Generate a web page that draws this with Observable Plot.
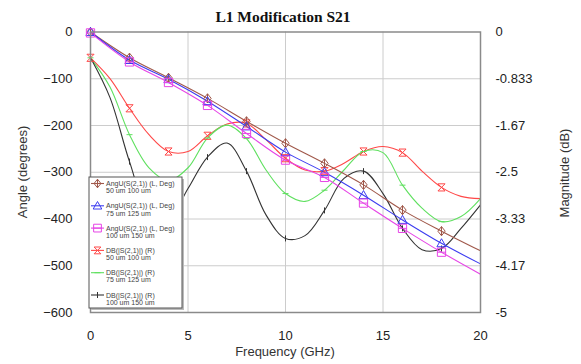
<!DOCTYPE html>
<html><head><meta charset="utf-8">
<script src="https://cdn.jsdelivr.net/npm/d3@7"></script>
<script src="https://cdn.jsdelivr.net/npm/@observablehq/plot@0.6"></script>
<style>body{margin:0;background:#fff;} svg{display:block;}</style>
</head><body><div id="chart"></div>
<script>
// ---- data ----
const title = "L1 Modification S21";
const xLabel = "Frequency (GHz)";
const yLabelLeft = "Angle (degrees)";
const yLabelRight = "Magnitude (dB)";

const freqAng = [0, 2, 4, 6, 8, 10, 12, 14, 16, 18, 20];
const ang50 = [0, -55, -98, -142, -191, -238, -281, -327, -381, -426, -468];
const ang75 = [0, -60, -101, -148, -202, -257, -300, -349, -402, -452, -496];
const ang100 = [-2, -64, -108, -157, -217, -274, -311, -366, -420, -471, -518];

const freqDb = [0, 1, 2, 3, 4, 5, 6, 7, 8, 9, 10, 11, 12, 13, 14, 15, 16, 17, 18, 19, 20];
const db50 = [-0.46, -0.83, -1.36, -1.83, -2.13, -2.13, -1.85, -1.64, -1.63, -1.92, -2.25, -2.46, -2.48, -2.34, -2.13, -2.04, -2.15, -2.48, -2.77, -2.93, -2.97];
const db75 = [-0.46, -0.98, -1.83, -2.42, -2.65, -2.42, -1.89, -1.66, -1.90, -2.46, -2.88, -3.02, -2.82, -2.46, -2.13, -2.15, -2.73, -3.14, -3.38, -3.29, -2.97];
const db100 = [-0.46, -1.17, -2.31, -3.21, -3.33, -2.79, -2.23, -1.98, -2.48, -3.26, -3.68, -3.63, -3.18, -2.61, -2.48, -2.88, -3.50, -3.88, -3.86, -3.50, -3.08];

const xTicks = [0, 5, 10, 15, 20];
const angleTicks = [0, -100, -200, -300, -400, -500, -600];
const dbTickLabels = ["0", "-0.833", "-1.67", "-2.5", "-3.33", "-4.17", "-5"];
const angleMin = -600, dbMin = -5;

const legendTop = ["AngU(S(2,1)) (L, Deg)", "AngU(S(2,1)) (L, Deg)", "AngU(S(2,1)) (L, Deg)",
                   "DB(|S(2,1)|) (R)", "DB(|S(2,1)|) (R)", "DB(|S(2,1)|) (R)"];
const legendSub = ["50 um 100 um", "75 um 125 um", "100 um 150 um",
                   "50 um 100 um", "75 um 125 um", "100 um 150 um"];
const colors = ["#a0584a", "#3c3cf0", "#e645e6", "#ff4848", "#5fe05f", "#333333"];

// ---- symbols ----
const rOf = size => Math.sqrt(size / Math.PI);
const symDiamond = {draw(c, s){const r = rOf(s); c.moveTo(0,-r); c.lineTo(r*0.8,0); c.lineTo(0,r); c.lineTo(-r*0.8,0); c.closePath(); c.moveTo(0,-r); c.lineTo(0,r);}};
const symTriangle = {draw(c, s){const r = rOf(s); c.moveTo(0,-r); c.lineTo(r,r*0.75); c.lineTo(-r,r*0.75); c.closePath();}};
const symSquare = {draw(c, s){const r = rOf(s)*0.9; c.moveTo(-r,-r); c.lineTo(r,-r); c.lineTo(r,r); c.lineTo(-r,r); c.closePath(); c.moveTo(-r,0); c.lineTo(r,0);}};
const symHour = {draw(c, s){const r = rOf(s)*0.85; c.moveTo(-r,-r); c.lineTo(r,-r); c.lineTo(-r,r); c.lineTo(r,r); c.closePath();}};
const symDash = {draw(c, s){const r = rOf(s); c.moveTo(-r,0); c.lineTo(r,0);}};
const symPlus = {draw(c, s){const r = rOf(s); c.moveTo(0,-r); c.lineTo(0,r);}};
const symbols = [symDiamond, symTriangle, symSquare, symHour, symDash, symPlus];

// ---- tables ----
const k = angleMin / dbMin;
const angSeries = [ang50, ang75, ang100].map(arr => freqAng.map((f, i) => ({f, v: arr[i]})));
const dbSeries = [db50, db75, db100].map(arr => freqDb.map((f, i) => ({f, v: arr[i] * k})));
const allSeries = [...angSeries, ...dbSeries];

const marks = [
  Plot.gridX(xTicks.slice(1, -1), {stroke: "#cccccc", strokeOpacity: 1}),
  Plot.gridY(angleTicks.slice(1, -1), {stroke: "#cccccc", strokeOpacity: 1}),
];
[3, 4, 5, 0, 1, 2].forEach(i => {
  const rows = allSeries[i];
  marks.push(Plot.line(rows, {x: "f", y: "v", stroke: colors[i], strokeWidth: 1.1, curve: "catmull-rom"}));
});
[3, 4, 5, 0, 1, 2].forEach(i => {
  const rows = allSeries[i].filter(d => d.f % 2 === 0 && d.f < 20);
  const r = i < 3 ? 4.6 : (i === 3 ? 4.2 : 3);
  marks.push(Plot.dot(rows, {x: "f", y: "v", symbol: symbols[i], r, stroke: colors[i], fill: "none", strokeWidth: 1}));
});
marks.push(
  Plot.frame({stroke: "#8a8a8a", strokeWidth: 1.5}),
  Plot.axisX({ticks: xTicks, tickSize: 0, tickPadding: 18, label: null}),
  Plot.axisY({anchor: "left", ticks: angleTicks, tickSize: 0, tickPadding: 18, label: null}),
  Plot.axisY({anchor: "right", ticks: angleTicks, tickSize: 0, tickPadding: 15, label: null,
              tickFormat: d => dbTickLabels[angleTicks.indexOf(d)]})
);

const W = 581, H = 364;
const chart = Plot.plot({
  width: W, height: H,
  marginTop: 31.5, marginBottom: 52, marginLeft: 90, marginRight: 101,
  x: {domain: [0, 20]},
  y: {domain: [angleMin, 0]},
  style: {fontFamily: "'Liberation Sans', Arial, sans-serif", fontSize: "13px", color: "#222", background: "#fff"},
  marks
});
document.getElementById("chart").append(chart);

// ---- title, axis labels, legend ----
const svg = d3.select(chart);
svg.append("text").attr("x", 283).attr("y", 22).attr("text-anchor", "middle")
  .attr("font-family", "'Liberation Serif', 'Times New Roman', serif").attr("font-weight", "bold")
  .attr("font-size", 15.5).attr("fill", "#111").text(title);
svg.append("text").attr("transform", "translate(22,172) rotate(-90)").attr("text-anchor", "middle")
  .attr("dominant-baseline", "central").attr("font-size", 13).attr("fill", "#333").text(yLabelLeft);
svg.append("text").attr("transform", "translate(564,173) rotate(-90)").attr("text-anchor", "middle")
  .attr("dominant-baseline", "central").attr("font-size", 13).attr("fill", "#333").text(yLabelRight);
svg.append("text").attr("x", 285).attr("y", 356).attr("text-anchor", "middle")
  .attr("font-size", 13).attr("fill", "#333").text(xLabel);

const lg = svg.append("g").attr("text-anchor", "start");
lg.append("rect").attr("x", 91).attr("y", 179).attr("width", 93).attr("height", 131).attr("fill", "#bbb");
lg.append("rect").attr("x", 89).attr("y", 177).attr("width", 93).attr("height", 131)
  .attr("fill", "#fff").attr("stroke", "#555").attr("stroke-width", 1);
legendTop.forEach((t, i) => {
  const cy = 183.5 + i * 22.3;
  const g = lg.append("g").attr("transform", `translate(0,${cy})`);
  g.append("line").attr("x1", 91).attr("x2", 104).attr("stroke", colors[i]).attr("stroke-width", 1.1);
  const r = i < 3 ? 4.3 : (i === 3 ? 4 : 3);
  g.append("path").attr("transform", "translate(97.5,0)")
    .attr("d", d3.symbol(symbols[i], Math.PI * r * r)()).attr("fill", "none").attr("stroke", colors[i]);
  g.append("text").attr("x", 106).attr("y", 2.5).attr("text-anchor", "start").attr("font-size", 7).attr("fill", "#444").text(t);
  g.append("text").attr("x", 106).attr("y", 9.8).attr("text-anchor", "start").attr("font-size", 7).attr("fill", "#444").text(legendSub[i]);
});
</script></body></html>
